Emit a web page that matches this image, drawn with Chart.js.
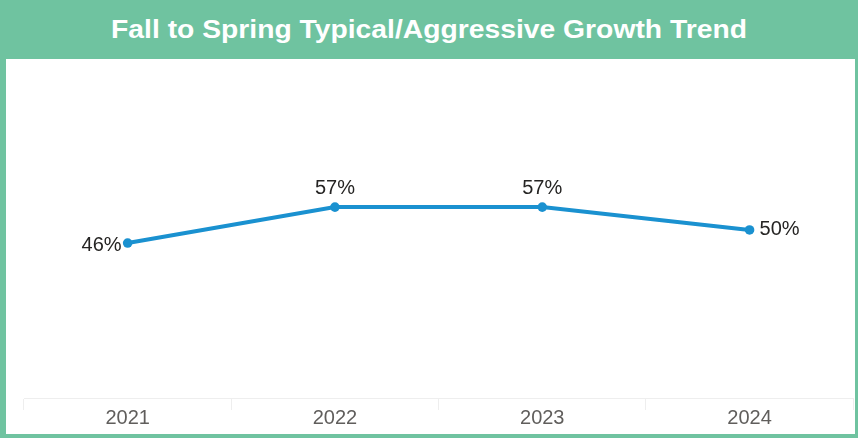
<!DOCTYPE html>
<html>
<head>
<meta charset="utf-8">
<script src="https://cdn.jsdelivr.net/npm/chart.js@4"></script>
<style>
  html, body { margin: 0; padding: 0; }
  body { width: 858px; height: 438px; background: #6fc3a0; position: relative; overflow: hidden; font-family: "Liberation Sans", Arial, sans-serif; }
  #title { position: absolute; left: 0; top: 0; width: 858px; height: 59px; line-height: 59px; text-align: center; color: #fff; font-weight: bold; font-size: 28px; transform: scale(1.01, 0.9); }
  #panel { position: absolute; left: 6px; top: 59px; width: 849px; height: 375px; background: #fff; }
  #chartWrap { position: absolute; left: 0; top: 59px; width: 858px; height: 375px; }
</style>
</head>
<body>
<div id="title">Fall to Spring Typical/Aggressive Growth Trend</div>
<div id="panel"></div>
<div id="chartWrap"><canvas id="trendChart"></canvas></div>
<script>
const years = ['2021', '2022', '2023', '2024'];
const growthPct = [46, 57, 57, 50];
// where each value label sits relative to its point
const labelSide = ['left', 'top', 'top', 'right'];

const fontFamily = '"Liberation Sans", Arial, sans-serif';

const pointLabels = {
  id: 'pointLabels',
  afterDatasetsDraw(chart) {
    const ctx = chart.ctx;
    const meta = chart.getDatasetMeta(0);
    ctx.save();
    ctx.font = '20px ' + fontFamily;
    ctx.fillStyle = '#252423';
    ctx.textBaseline = 'middle';
    meta.data.forEach((pt, i) => {
      const txt = growthPct[i] + '%';
      const side = labelSide[i];
      if (side === 'left') {
        ctx.textAlign = 'right';
        ctx.fillText(txt, pt.x - 6, pt.y + 2);
      } else if (side === 'right') {
        ctx.textAlign = 'left';
        ctx.fillText(txt, pt.x + 10, pt.y);
      } else {
        ctx.textAlign = 'center';
        ctx.fillText(txt, pt.x, pt.y - 19);
      }
    });
    ctx.restore();
  }
};

const ctx = document.getElementById('trendChart').getContext('2d');
new Chart(ctx, {
  type: 'line',
  data: {
    labels: years,
    datasets: [{
      data: growthPct,
      borderColor: '#1a91d0',
      backgroundColor: '#1a91d0',
      borderWidth: 4,
      pointRadius: 4.8,
      pointBorderWidth: 0,
      pointHoverRadius: 4.8,
      tension: 0
    }]
  },
  options: {
    responsive: true,
    maintainAspectRatio: false,
    animation: false,
    layout: { padding: { left: 24, right: 0, top: 7.5, bottom: 0 } },
    plugins: { legend: { display: false }, tooltip: { enabled: false } },
    scales: {
      x: {
        offset: true,
        afterFit(scale) { scale.height = 36; },
        grid: { offset: true, drawOnChartArea: false, color: '#eeeeee', tickLength: 12 },
        border: { color: '#eeeeee' },
        ticks: { color: '#605e5c', font: { size: 20, family: fontFamily }, padding: -4 }
      },
      y: {
        min: -1.4,
        max: 100,
        display: false
      }
    }
  },
  plugins: [pointLabels]
});
</script>
</body>
</html>
